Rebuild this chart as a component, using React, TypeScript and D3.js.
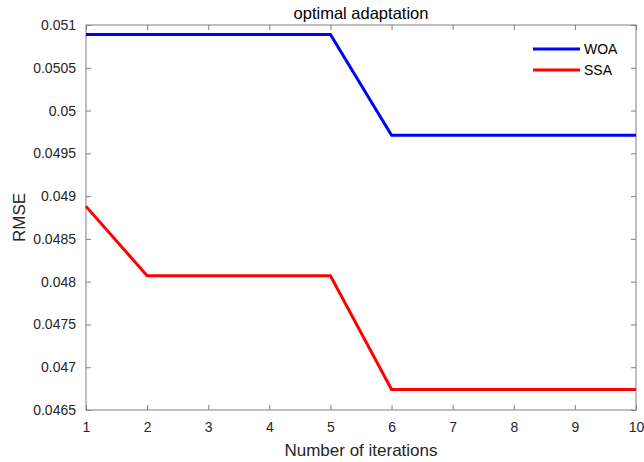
import { useEffect, useRef } from "react";
import * as d3 from "d3";

const iterations = [1, 2, 3, 4, 5, 6, 7, 8, 9, 10];
const woa = [0.05089, 0.05089, 0.05089, 0.05089, 0.05089, 0.04971, 0.04971, 0.04971, 0.04971, 0.04971];
const ssa = [0.04888, 0.04807, 0.04807, 0.04807, 0.04807, 0.04674, 0.04674, 0.04674, 0.04674, 0.04674];
const yTicks = [0.0465, 0.047, 0.0475, 0.048, 0.0485, 0.049, 0.0495, 0.05, 0.0505, 0.051];
const seriesNames = ["WOA", "SSA"];
const seriesColors = ["#0000ff", "#ff0000"];

export default function App() {
  const ref = useRef<SVGSVGElement>(null);

  useEffect(() => {
    if (!ref.current) return;
    const W = 644, H = 462;
    const ML = 86, MR = 8, MT = 25, MB = 52;
    const iW = W - ML - MR, iH = H - MT - MB;
    const font = "'Liberation Sans', Arial, sans-serif";
    const axisCol = "#262626";
    const boxCol = "#808080";

    const svg = d3.select(ref.current).attr("width", W).attr("height", H);
    svg.selectAll("*").remove();
    svg.append("rect").attr("width", W).attr("height", H).attr("fill", "#fff");
    const g = svg.append("g").attr("transform", `translate(${ML},${MT})`);

    const x = d3.scaleLinear().domain([1, 10]).range([0, iW]);
    const y = d3.scaleLinear().domain([0.0465, 0.051]).range([iH, 0]);
    const fmt = (v: d3.NumberValue) => String(+(+v).toFixed(5));
    const tickLen = 5;

    const styleAxis = (sel: d3.Selection<SVGGElement, unknown, null, undefined>, hideText = false) => {
      sel.select(".domain").remove();
      sel.selectAll("line").attr("stroke", boxCol);
      sel.selectAll("text")
        .attr("font-family", font).attr("font-size", 14).attr("fill", axisCol)
        .style("display", hideText ? "none" : null);
    };

    // bottom / top
    g.append("g").attr("transform", `translate(0,${iH})`)
      .call(d3.axisBottom(x).tickValues(iterations).tickSizeInner(-tickLen).tickSizeOuter(0).tickPadding(12).tickFormat(d3.format("d")))
      .call(s => styleAxis(s));
    g.append("g")
      .call(d3.axisTop(x).tickValues(iterations).tickSizeInner(-tickLen).tickSizeOuter(0))
      .call(s => styleAxis(s, true));
    // left / right
    g.append("g")
      .call(d3.axisLeft(y).tickValues(yTicks).tickSizeInner(-tickLen).tickSizeOuter(0).tickPadding(10).tickFormat(fmt))
      .call(s => styleAxis(s));
    g.append("g").attr("transform", `translate(${iW},0)`)
      .call(d3.axisRight(y).tickValues(yTicks).tickSizeInner(-tickLen).tickSizeOuter(0))
      .call(s => styleAxis(s, true));

    // box
    g.append("rect").attr("width", iW).attr("height", iH)
      .attr("fill", "none").attr("stroke", boxCol).attr("stroke-width", 1);

    const line = d3.line<number>().x((_, i) => x(iterations[i])).y(d => y(d));
    [woa, ssa].forEach((s, k) => {
      g.append("path").datum(s).attr("d", line)
        .attr("fill", "none").attr("stroke", seriesColors[k]).attr("stroke-width", 3);
    });

    // legend
    seriesNames.forEach((n, k) => {
      const ly = 24 + k * 21;
      g.append("line").attr("x1", iW - 103).attr("x2", iW - 56).attr("y1", ly).attr("y2", ly)
        .attr("stroke", seriesColors[k]).attr("stroke-width", 3);
      g.append("text").attr("x", iW - 52).attr("y", ly + 5)
        .attr("font-family", font).attr("font-size", 14).attr("fill", "#000").text(n);
    });

    // title & labels
    svg.append("text").attr("x", ML + iW / 2).attr("y", 19).attr("text-anchor", "middle")
      .attr("font-family", font).attr("font-size", 16.5).attr("fill", "#000").text("optimal adaptation");
    svg.append("text").attr("x", ML + iW / 2).attr("y", 456).attr("text-anchor", "middle")
      .attr("font-family", font).attr("font-size", 17).attr("fill", axisCol).text("Number of iterations");
    svg.append("text").attr("transform", `translate(25,${MT + iH / 2}) rotate(-90)`).attr("text-anchor", "middle")
      .attr("font-family", font).attr("font-size", 17).attr("fill", axisCol).text("RMSE");
  }, []);

  return (
    <div style={{ position: "fixed", left: 0, top: 0 }}>
      <svg ref={ref} style={{ display: "block" }} />
    </div>
  );
}
